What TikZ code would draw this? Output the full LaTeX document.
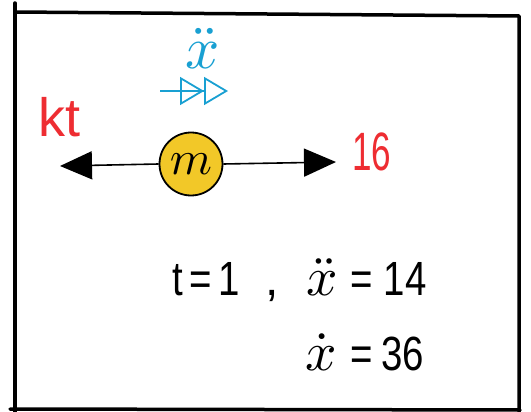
\documentclass[tikz,border=0pt]{standalone}
\usepackage{fontspec}
\setmainfont{Liberation Sans}
\usetikzlibrary{arrows.meta}
\definecolor{massyellow}{RGB}{242,200,40}
\definecolor{forcered}{RGB}{238,45,50}
\definecolor{accblue}{RGB}{25,160,210}
\newcommand{\bigmath}[2]{\scalebox{#1}{\normalsize$#2$}}
\newcommand{\narrowtext}[2]{\scalebox{#1}[1]{#2}}
\tikzset{
  frameline/.style={line width=3.5pt, line cap=round, line join=round},
  forcearrow/.style={line width=1.6pt, -{Triangle[length=32pt,width=28pt]}},
  accarrow/.style={accblue, line width=1.8pt, -{Triangle[open,length=24pt,width=28pt]Triangle[open,length=24pt,width=28pt]}},
  mass/.style={circle, draw, line width=1.8pt, fill=massyellow, minimum size=63pt, inner sep=0pt},
  redlabel/.style={forcered, font=\fontsize{54}{58}\selectfont, inner sep=0pt},
  biglabel/.style={font=\fontsize{48}{52}\selectfont, inner sep=0pt},
}
\begin{document}
\begin{tikzpicture}[x=1pt,y=1pt]
\useasboundingbox (0,0) rectangle (531,-412);
\fill[white] (0,0) rectangle (531,-412);
% frame
\draw[frameline] (15,-3) -- (15,-412);
\draw[frameline] (15,-12) -- (519,-16) -- (519,-412);
\draw[frameline] (10,-409) -- (520,-410);
% mass
\node[mass] (m) at (191,-164) {\bigmath{4.8}{m}};
\coordinate (tipL) at (60,-166);
\coordinate (tipR) at (336,-162);
\draw[forcearrow] (m.west) -- (tipL);
\draw[forcearrow] (m.east) -- (tipR);
\node[redlabel, anchor=base west] (kt) at (38,-137) {kt};
\node[redlabel, anchor=base west] (f) at (352,-171) {\narrowtext{0.65}{16}};
% acceleration
\node[accblue, inner sep=0pt, anchor=base] (acc) at (203,-69) {\bigmath{6}{\ddot{x}}};
\coordinate (accS) at (160,-91);
\coordinate (accE) at (228,-91);
\draw[accarrow] (accS) -- (accE);
% values
\node[biglabel, anchor=base west] (l1) at (172,-295) {\narrowtext{0.8}{t\,=\,1}\hspace{26pt},\hspace{28pt}\bigmath{5.5}{\ddot{x}}\hspace{12pt}\narrowtext{0.8}{=\hspace{14pt}14}};
\node[biglabel, anchor=base west] (l2) at (305,-370) {\bigmath{5.5}{\dot{x}}\hspace{14pt}\narrowtext{0.8}{=\hspace{10pt}36}};
\end{tikzpicture}
\end{document}
